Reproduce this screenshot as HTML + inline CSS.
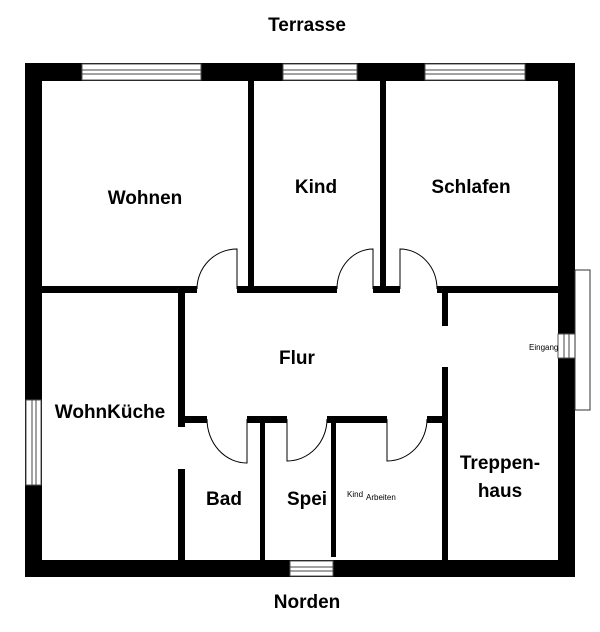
<!DOCTYPE html>
<html><head><meta charset="utf-8"><style>
html,body{margin:0;padding:0;background:#fff;}
svg{display:block;}
text{font-family:"Liberation Sans",sans-serif;font-weight:bold;fill:#000;}
</style></head><body>
<svg width="600" height="632" viewBox="0 0 600 632" xmlns="http://www.w3.org/2000/svg">
<rect width="600" height="632" fill="#fff"/>
<!-- outer walls -->
<rect x="25" y="63" width="550" height="18" fill="#000"/>
<rect x="25" y="560" width="550" height="17" fill="#000"/>
<rect x="25" y="63" width="17" height="514" fill="#000"/>
<rect x="558" y="63" width="17" height="514" fill="#000"/>
<!-- top windows -->
<g fill="#fff" stroke="#555" stroke-width="1">
<rect x="82" y="64" width="119" height="16"/>
<rect x="283" y="64" width="74" height="16"/>
<rect x="425" y="64" width="100" height="16"/>
</g>
<g stroke="#444" stroke-width="1">
<line x1="82" y1="70" x2="201" y2="70"/><line x1="82" y1="74" x2="201" y2="74"/>
<line x1="283" y1="70" x2="357" y2="70"/><line x1="283" y1="74" x2="357" y2="74"/>
<line x1="425" y1="70" x2="525" y2="70"/><line x1="425" y1="74" x2="525" y2="74"/>
</g>
<!-- left window -->
<rect x="26" y="400" width="15" height="85" fill="#fff" stroke="#555"/>
<line x1="32" y1="400" x2="32" y2="485" stroke="#444"/><line x1="36" y1="400" x2="36" y2="485" stroke="#444"/>
<!-- bottom window -->
<rect x="290" y="561" width="43" height="15" fill="#fff" stroke="#555"/>
<line x1="290" y1="567" x2="333" y2="567" stroke="#444"/><line x1="290" y1="571" x2="333" y2="571" stroke="#444"/>
<!-- entrance -->
<rect x="558" y="334" width="17" height="24" fill="#fff" stroke="#555"/>
<line x1="564" y1="334" x2="564" y2="358" stroke="#444"/><line x1="569" y1="334" x2="569" y2="358" stroke="#444"/>
<rect x="575" y="270" width="15" height="140" fill="none" stroke="#333" stroke-width="1"/>
<!-- interior walls -->
<g fill="#000">
<rect x="248" y="80" width="6" height="212"/>
<rect x="380" y="80" width="6" height="212"/>
<rect x="42" y="286" width="155" height="7"/>
<rect x="237" y="286" width="100" height="7"/>
<rect x="373" y="286" width="27" height="7"/>
<rect x="437" y="286" width="121" height="7"/>
<rect x="178" y="289" width="7" height="138"/>
<rect x="178" y="469" width="7" height="91"/>
<rect x="442" y="289" width="6" height="37"/>
<rect x="442" y="367" width="6" height="193"/>
<rect x="178" y="416" width="29" height="7"/>
<rect x="247" y="416" width="40" height="7"/>
<rect x="327" y="416" width="60" height="7"/>
<rect x="427" y="416" width="20" height="7"/>
<rect x="260" y="419" width="5" height="141"/>
<rect x="331" y="419" width="5" height="138"/>
</g>
<!-- doors -->
<g fill="none" stroke="#000" stroke-width="1">
<path d="M197 289 A40 40 0 0 1 237 249 L237 289"/>
<path d="M337 289 A36 40 0 0 1 373 249 L373 289"/>
<path d="M437 289 A37 40 0 0 0 400 249 L400 289"/>
<path d="M207 419 A40 44 0 0 0 247 463 L247 419"/>
<path d="M327 419 A40 42 0 0 1 287 461 L287 419"/>
<path d="M427 419 A40 42 0 0 1 387 461 L387 419"/>
</g>
<!-- labels -->
<text x="307" y="31" font-size="19" text-anchor="middle">Terrasse</text>
<text x="145" y="204" font-size="19" text-anchor="middle">Wohnen</text>
<text x="316" y="193" font-size="19" text-anchor="middle">Kind</text>
<text x="471" y="193" font-size="19" text-anchor="middle">Schlafen</text>
<text x="297" y="364" font-size="19" text-anchor="middle">Flur</text>
<text x="110" y="418" font-size="19" text-anchor="middle">WohnKüche</text>
<text x="224" y="505" font-size="19" text-anchor="middle">Bad</text>
<text x="307" y="505" font-size="19" text-anchor="middle">Spei</text>
<text x="347" y="497" font-size="8" font-weight="normal" style="font-weight:normal">Kind</text>
<text x="366" y="500" font-size="8" style="font-weight:normal">Arbeiten</text>
<text x="500" y="469" font-size="19" text-anchor="middle">Treppen-</text>
<text x="500" y="497" font-size="19" text-anchor="middle">haus</text>
<text x="307" y="608" font-size="19" text-anchor="middle">Norden</text>
<text x="529" y="350" font-size="8" style="font-weight:normal">Eingang</text>
</svg>
</body></html>
